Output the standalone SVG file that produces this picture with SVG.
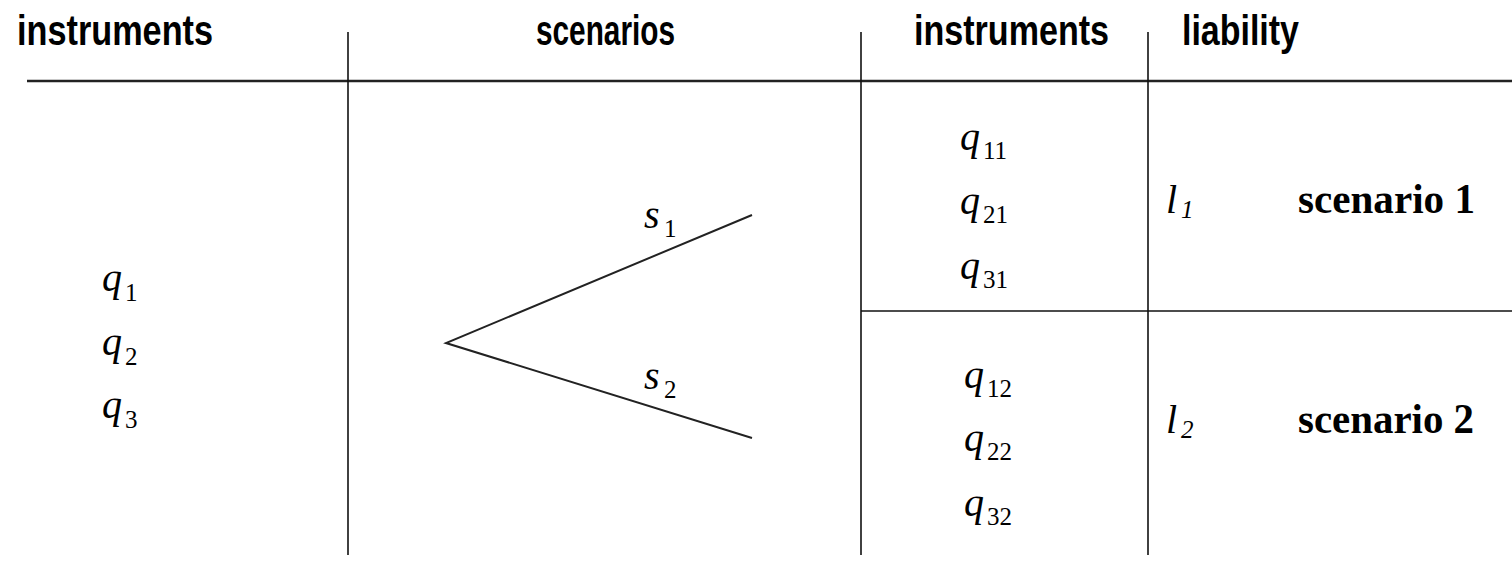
<svg xmlns="http://www.w3.org/2000/svg" width="1512" height="561" viewBox="0 0 1512 561">
<style>
.hd{font-family:"Liberation Sans",Arial,sans-serif;font-weight:bold;font-size:42px;fill:#000}
.mi{font-family:"Liberation Serif","Times New Roman",serif;font-style:italic;font-size:40px;fill:#000}
.sb{font-family:"Liberation Serif","Times New Roman",serif;font-size:25px;fill:#000}
.sbi{font-family:"Liberation Serif","Times New Roman",serif;font-style:italic;font-size:25px;fill:#000}
.sc{font-family:"Liberation Serif","Times New Roman",serif;font-weight:bold;font-size:42px;fill:#000}
.rule{stroke:#111;stroke-width:1.6;fill:none}
.top{stroke:#222;stroke-width:2.6;fill:none}
.br{stroke:#222;stroke-width:2;fill:none}
</style>
<rect width="1512" height="561" fill="#fff"/>
<g id="grid">
<line class="top" x1="27" y1="81" x2="1512" y2="81"/>
<line class="rule" x1="348" y1="32" x2="348" y2="555"/>
<line class="rule" x1="861" y1="32" x2="861" y2="555"/>
<line class="rule" x1="1148" y1="32" x2="1148" y2="555"/>
<line class="rule" x1="861" y1="311" x2="1512" y2="311"/>
</g>
<g id="headers">
<text class="hd" x="17" y="45" textLength="196" lengthAdjust="spacingAndGlyphs">instruments</text>
<text class="hd" x="536" y="45" textLength="139" lengthAdjust="spacingAndGlyphs">scenarios</text>
<text class="hd" x="914" y="45" textLength="195" lengthAdjust="spacingAndGlyphs">instruments</text>
<text class="hd" x="1182" y="45" textLength="117" lengthAdjust="spacingAndGlyphs">liability</text>
</g>
<g id="left-instruments">
<text x="102" y="291"><tspan class="mi">q</tspan><tspan class="sb" x="125" y="301">1</tspan></text>
<text x="102" y="355"><tspan class="mi">q</tspan><tspan class="sb" x="125" y="365">2</tspan></text>
<text x="102" y="418"><tspan class="mi">q</tspan><tspan class="sb" x="125" y="428">3</tspan></text>
</g>
<g id="connectors">
<polyline class="br" points="752,215 446,343 752,438"/>
</g>
<g id="scenario-labels">
<text x="644" y="228"><tspan class="mi" font-size="32">s</tspan><tspan class="sb" x="664" y="237">1</tspan></text>
<text x="644" y="389"><tspan class="mi" font-size="32">s</tspan><tspan class="sb" x="664" y="398">2</tspan></text>
</g>
<g id="instruments-s1">
<text x="960" y="150"><tspan class="mi">q</tspan><tspan class="sb" x="983" y="159">11</tspan></text>
<text x="960" y="214"><tspan class="mi">q</tspan><tspan class="sb" x="983" y="223">21</tspan></text>
<text x="960" y="279"><tspan class="mi">q</tspan><tspan class="sb" x="983" y="288">31</tspan></text>
</g>
<g id="instruments-s2">
<text x="964" y="388"><tspan class="mi">q</tspan><tspan class="sb" x="987" y="397">12</tspan></text>
<text x="964" y="451"><tspan class="mi">q</tspan><tspan class="sb" x="987" y="460">22</tspan></text>
<text x="964" y="516"><tspan class="mi">q</tspan><tspan class="sb" x="987" y="525">32</tspan></text>
</g>
<g id="liability-1">
<text x="1166" y="213"><tspan class="mi" font-size="34">l</tspan><tspan class="sbi" x="1181" y="218">1</tspan></text>
<text class="sc" x="1298" y="213" textLength="177" lengthAdjust="spacingAndGlyphs">scenario 1</text>
</g>
<g id="liability-2">
<text x="1166" y="433"><tspan class="mi" font-size="34">l</tspan><tspan class="sbi" x="1181" y="438">2</tspan></text>
<text class="sc" x="1298" y="433" textLength="176" lengthAdjust="spacingAndGlyphs">scenario 2</text>
</g>
</svg>
